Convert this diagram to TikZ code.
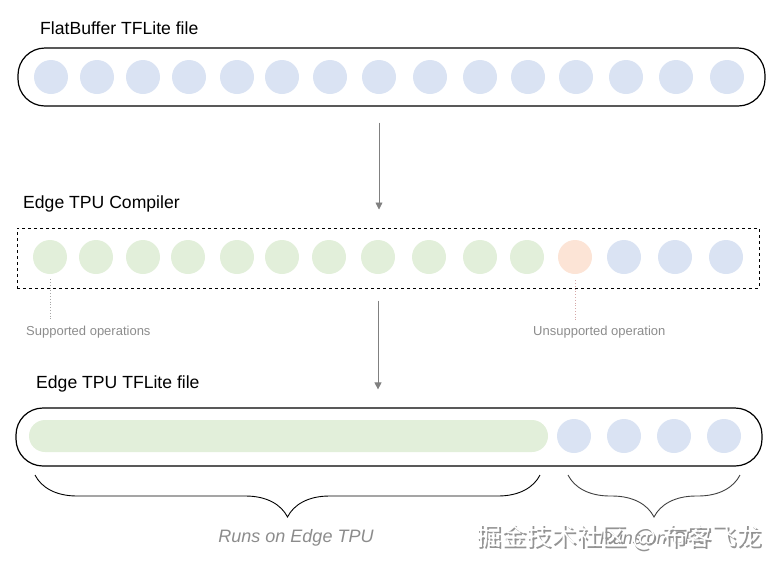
\documentclass[tikz,border=0pt]{standalone}
\usepackage{fontspec}
\setmainfont{Liberation Sans}
\newfontfamily\cjk{Noto Sans CJK SC}
\usetikzlibrary{positioning,arrows.meta,decorations.pathreplacing}

\definecolor{opblue}{HTML}{DAE3F3}
\definecolor{opgreen}{HTML}{E2EFDA}
\definecolor{oporange}{HTML}{FCE4D6}
\definecolor{arrowgray}{HTML}{808080}
\definecolor{labelgray}{HTML}{8C8C8C}

\begin{document}
\begin{tikzpicture}[x=1pt,y=-1pt,node distance=50pt,on grid,
  op/.style={circle,minimum size=34pt,inner sep=0pt},
  filebox/.style={draw,line width=1.2pt,rounded corners=27pt,minimum height=58pt,inner sep=0pt},
  title/.style={anchor=west,inner sep=0pt,font=\fontsize{17.6}{20}\selectfont},
  note/.style={anchor=west,inner sep=0pt,text=labelgray,font=\fontsize{13}{15}\selectfont},
  result/.style={inner sep=0pt,text=labelgray,font=\fontsize{18}{20}\selectfont\itshape},
  flow/.style={-{Triangle[width=7pt,length=7pt]},draw=arrowgray,line width=0.8pt},
  leader/.style={dotted,line width=0.8pt},
  brace/.style={decorate,decoration={brace,mirror,amplitude=42pt},line width=0.9pt},
  stamp/.style={inner sep=0pt,font=\cjk\fontsize{25}{27}\selectfont}]
 \useasboundingbox (0,0) rectangle (779,566);
 % FlatBuffer model
 \node[filebox,minimum width=747pt] (flat) at (391.5,77) {};
 \node[title] (flat_t) at (40,28) {FlatBuffer TFLite file};
 \foreach \x [count=\i] in {51,97,143,189,237,282,330,379,430,480,528,576,626,676,727}
  \node[op,fill=opblue] (f_\i) at (\x,77) {};
 % compiler
 \node[draw,dashed,line width=1pt,minimum width=742pt,minimum height=60pt,inner sep=0pt] (comp) at (388,258) {};
 \node[title] (comp_t) at (23,204) {Edge TPU Compiler};
 \foreach \x/\c [count=\i] in {50/opgreen,96/opgreen,143/opgreen,188/opgreen,237/opgreen,
   282/opgreen,329/opgreen,378/opgreen,429/opgreen,480/opgreen,527/opgreen,
   575/oporange,624/opblue,675/opblue,726/opblue}
  \node[op,fill=\c] (c_\i) at (\x,257) {};
 \node[note] (sup) at (26,332) {Supported operations};
 \node[note] (unsup) at (533,332) {Unsupported operation};
 \draw[leader,draw=gray!70,shorten <=5pt,shorten >=6pt] (c_1.south) -- (c_1.south |- sup.north);
 \draw[leader,draw=red!35!gray!50,shorten <=6pt,shorten >=6pt] (c_12.south) -- (c_12.south |- unsup.north);
 % Edge TPU model
 \node[filebox,minimum width=746pt] (edge) at (389,437) {};
 \node[title] (edge_t) at (36,384) {Edge TPU TFLite file};
 \node[fill=opgreen,rounded corners=16pt,minimum width=519pt,minimum height=32pt,inner sep=0pt] (bar) at (288.5,436) {};
 \node[op,fill=opblue] (e_1) at (574,436) {};
 \foreach \i [count=\j from 2] in {1,...,3}
  \node[op,fill=opblue,right=of e_\i] (e_\j) {};
 % arrows
 \path
  (flat.south -| f_8) edge[flow,shorten <=16pt,shorten >=18pt] (comp.north -| f_8)
  (comp.south -| c_8) edge[flow,shorten <=12pt,shorten >=18pt] (edge.north -| c_8);
 % braces
 \coordinate (lb_s) at (35,475);
 \coordinate (lb_e) at (540,475);
 \coordinate (rb_s) at (568,475);
 \coordinate (rb_e) at (740,475);
 \draw[brace] (lb_s) -- (lb_e);
 \draw[brace,draw=darkgray] (rb_s) -- (rb_e);
 \node[result] (tpu_l) at (296,538) {Runs on Edge TPU};
 \node[result] (cpu_l) at (655,538) {Runs on CPU};
 % watermark
 \node[stamp,text=gray!85] (wm_s) at (620.6,538.6) {掘金技术社区 @ 布客飞龙};
 \node[stamp,text=white] (wm) at (619,537) {掘金技术社区 @ 布客飞龙};
\end{tikzpicture}
\end{document}
